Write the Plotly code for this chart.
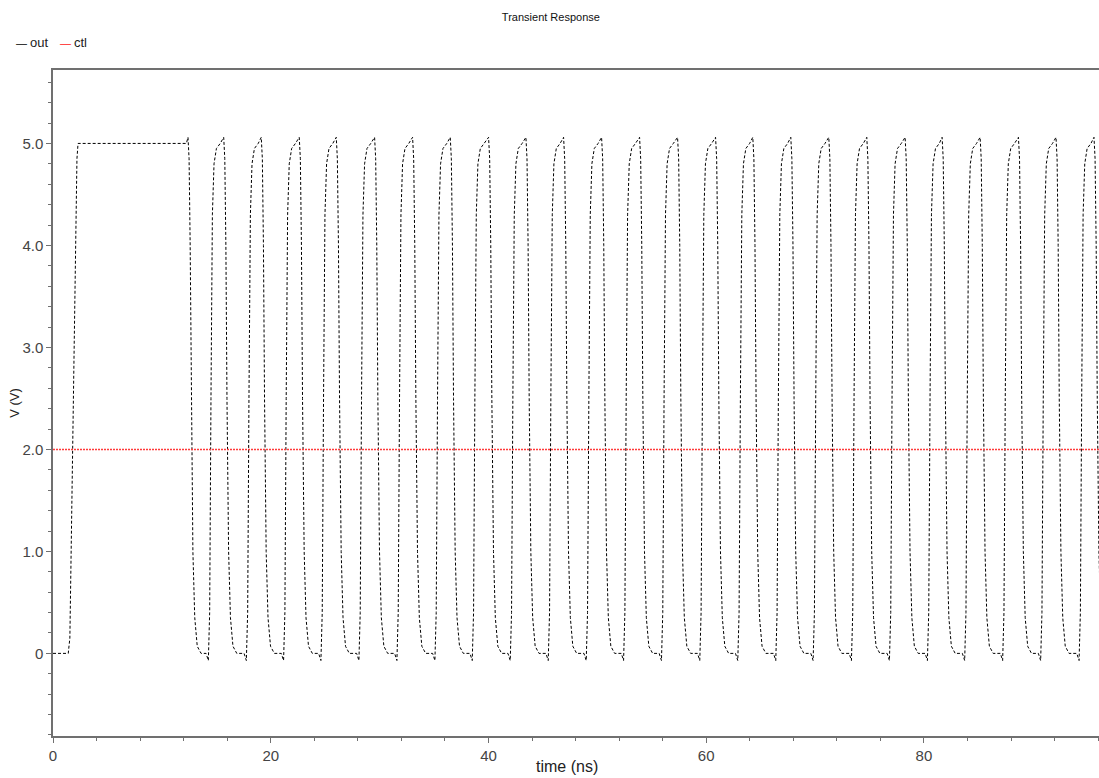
import plotly.graph_objects as go

# ---- data (time in ns, voltage in V) ----
# initial pulse of "out"
init_t = [0.0, 1.40, 1.55, 1.70, 1.86, 2.05, 2.20, 2.30, 12.25]
init_v = [0.0, 0.0, 0.15, 1.2, 2.5, 4.0, 4.85, 5.0, 5.0]
first_fall = 12.70

# 2.5 V crossing times of the oscillation
rise_t = [14.51, 18.00, 21.42, 24.85, 28.34, 31.83, 35.32, 38.75, 42.24, 45.73,
          49.22, 52.65, 56.13, 59.65, 63.14, 66.63, 70.06, 73.58, 77.07, 80.56,
          83.98, 87.47, 90.96, 94.49]
fall_t = [15.98, 19.43, 22.92, 26.32, 29.84, 33.33, 36.79, 40.31, 43.74, 47.20,
          50.69, 54.18, 57.67, 61.16, 64.58, 68.07, 71.56, 75.05, 78.57, 81.97,
          85.46, 88.98, 92.43, 95.92]

# edge shapes (offset from crossing, voltage)
rise_dt = [-0.45, -0.24, -0.12, 0.0, 0.13, 0.28, 0.50, 0.85]
rise_v = [0.0, -0.07, 0.4, 2.5, 4.3, 4.8, 4.95, 5.0]
fall_dt = [-0.30, -0.20, -0.10, 0.0, 0.15, 0.32, 0.55, 0.90]
fall_v = [5.06, 4.85, 4.0, 2.5, 1.0, 0.35, 0.07, 0.0]

ctl_t = [0.0, 96.1]
ctl_v = [2.0, 2.0]

series_names = ["out", "ctl"]
series_colors = ["#000000", "#ff2020"]

y_tickvals = [0, 1, 2, 3, 4, 5]
y_ticktext = ["0", "1.0", "2.0", "3.0", "4.0", "5.0"]
x_tickvals = [0, 20, 40, 60, 80]
x_ticktext = ["0", "20", "40", "60", "80"]

# ---- assemble the "out" waveform ----
out_t = list(init_t)
out_v = list(init_v)
out_t += [first_fall + d for d in fall_dt]
out_v += list(fall_v)
for r, f in zip(rise_t, fall_t):
    out_t += [r + d for d in rise_dt]
    out_v += list(rise_v)
    out_t += [f + d for d in fall_dt]
    out_v += list(fall_v)

fig = go.Figure()
fig.add_trace(go.Scatter(x=out_t, y=out_v, mode="lines", name="out",
                         line=dict(color="black", width=1, dash="3px,2px"),
                         showlegend=False))
fig.add_trace(go.Scatter(x=ctl_t, y=ctl_v, mode="lines", name="ctl",
                         line=dict(color="#ff3b3b", width=1.5, dash="2px,1px"),
                         showlegend=False))

font_family = "Liberation Sans, Arial, sans-serif"
axis_color = "#707070"

W, H = 1099, 778
ML, MT, MB = 53, 70, 42
plot_w = W - ML
plot_h = H - MT - MB
legend_y = 1 + (70 - 43) / plot_h

# legend drawn as text: dash glyph in series colour followed by the name
legend_dash_px = [14, 58]
legend_name_px = [28, 72]
legend_anns = []
for name, col, dpx, npx in zip(series_names, series_colors,
                               legend_dash_px, legend_name_px):
    legend_anns.append(dict(text="—", x=(dpx - ML) / plot_w, xref="paper",
                            y=legend_y, yref="paper", xanchor="left",
                            yanchor="middle", showarrow=False,
                            font=dict(size=11, color=col)))
    legend_anns.append(dict(text=name, x=(npx - ML) / plot_w, xref="paper",
                            y=legend_y, yref="paper", xanchor="left",
                            yanchor="middle", showarrow=False,
                            font=dict(size=13, color="#222222")))

fig.update_layout(
    width=W, height=H,
    margin=dict(l=ML, r=0, t=MT, b=MB),
    paper_bgcolor="white", plot_bgcolor="white",
    font=dict(family=font_family, color="#222222"),
    title=dict(text="Transient Response", x=0.476, xref="paper",
               y=1 - 17 / H, yref="container", xanchor="center",
               yanchor="middle", font=dict(size=11, color="#111111")),
    xaxis=dict(range=[0, 96.08], showgrid=False, zeroline=False,
               showline=True, linecolor=axis_color, linewidth=1.5, mirror=True,
               ticks="outside", ticklen=5, tickcolor=axis_color, tickwidth=1,
               tickvals=x_tickvals, ticktext=x_ticktext,
               tickfont=dict(size=15, color="#444444"),
               minor=dict(dtick=4, tick0=0, ticks="outside", ticklen=3,
                          tickcolor=axis_color, tickwidth=1)),
    yaxis=dict(range=[-0.81, 5.72], showgrid=False, zeroline=False,
               showline=True, linecolor=axis_color, linewidth=1.5,
               ticks="outside", ticklen=5, tickcolor=axis_color, tickwidth=1,
               tickvals=y_tickvals, ticktext=y_ticktext,
               tickfont=dict(size=15, color="#444444"),
               title=dict(text="V (V)", standoff=0,
                          font=dict(size=13, color="#222222")),
               minor=dict(dtick=0.2, tick0=0, ticks="outside", ticklen=3,
                          tickcolor=axis_color, tickwidth=1)),
    annotations=[
        dict(text="time (ns)", x=0.491, xref="paper",
             y=-(767 - 736) / plot_h, yref="paper", yanchor="middle",
             showarrow=False, font=dict(size=16, color="#222222")),
    ] + legend_anns,
)

# remove the default page margin so the figure sits exactly in the window
fig.write_html(
    "out.html",
    config={"displayModeBar": False},
    post_script="document.body.style.margin='0';"
                "document.body.style.overflow='hidden';",
)
